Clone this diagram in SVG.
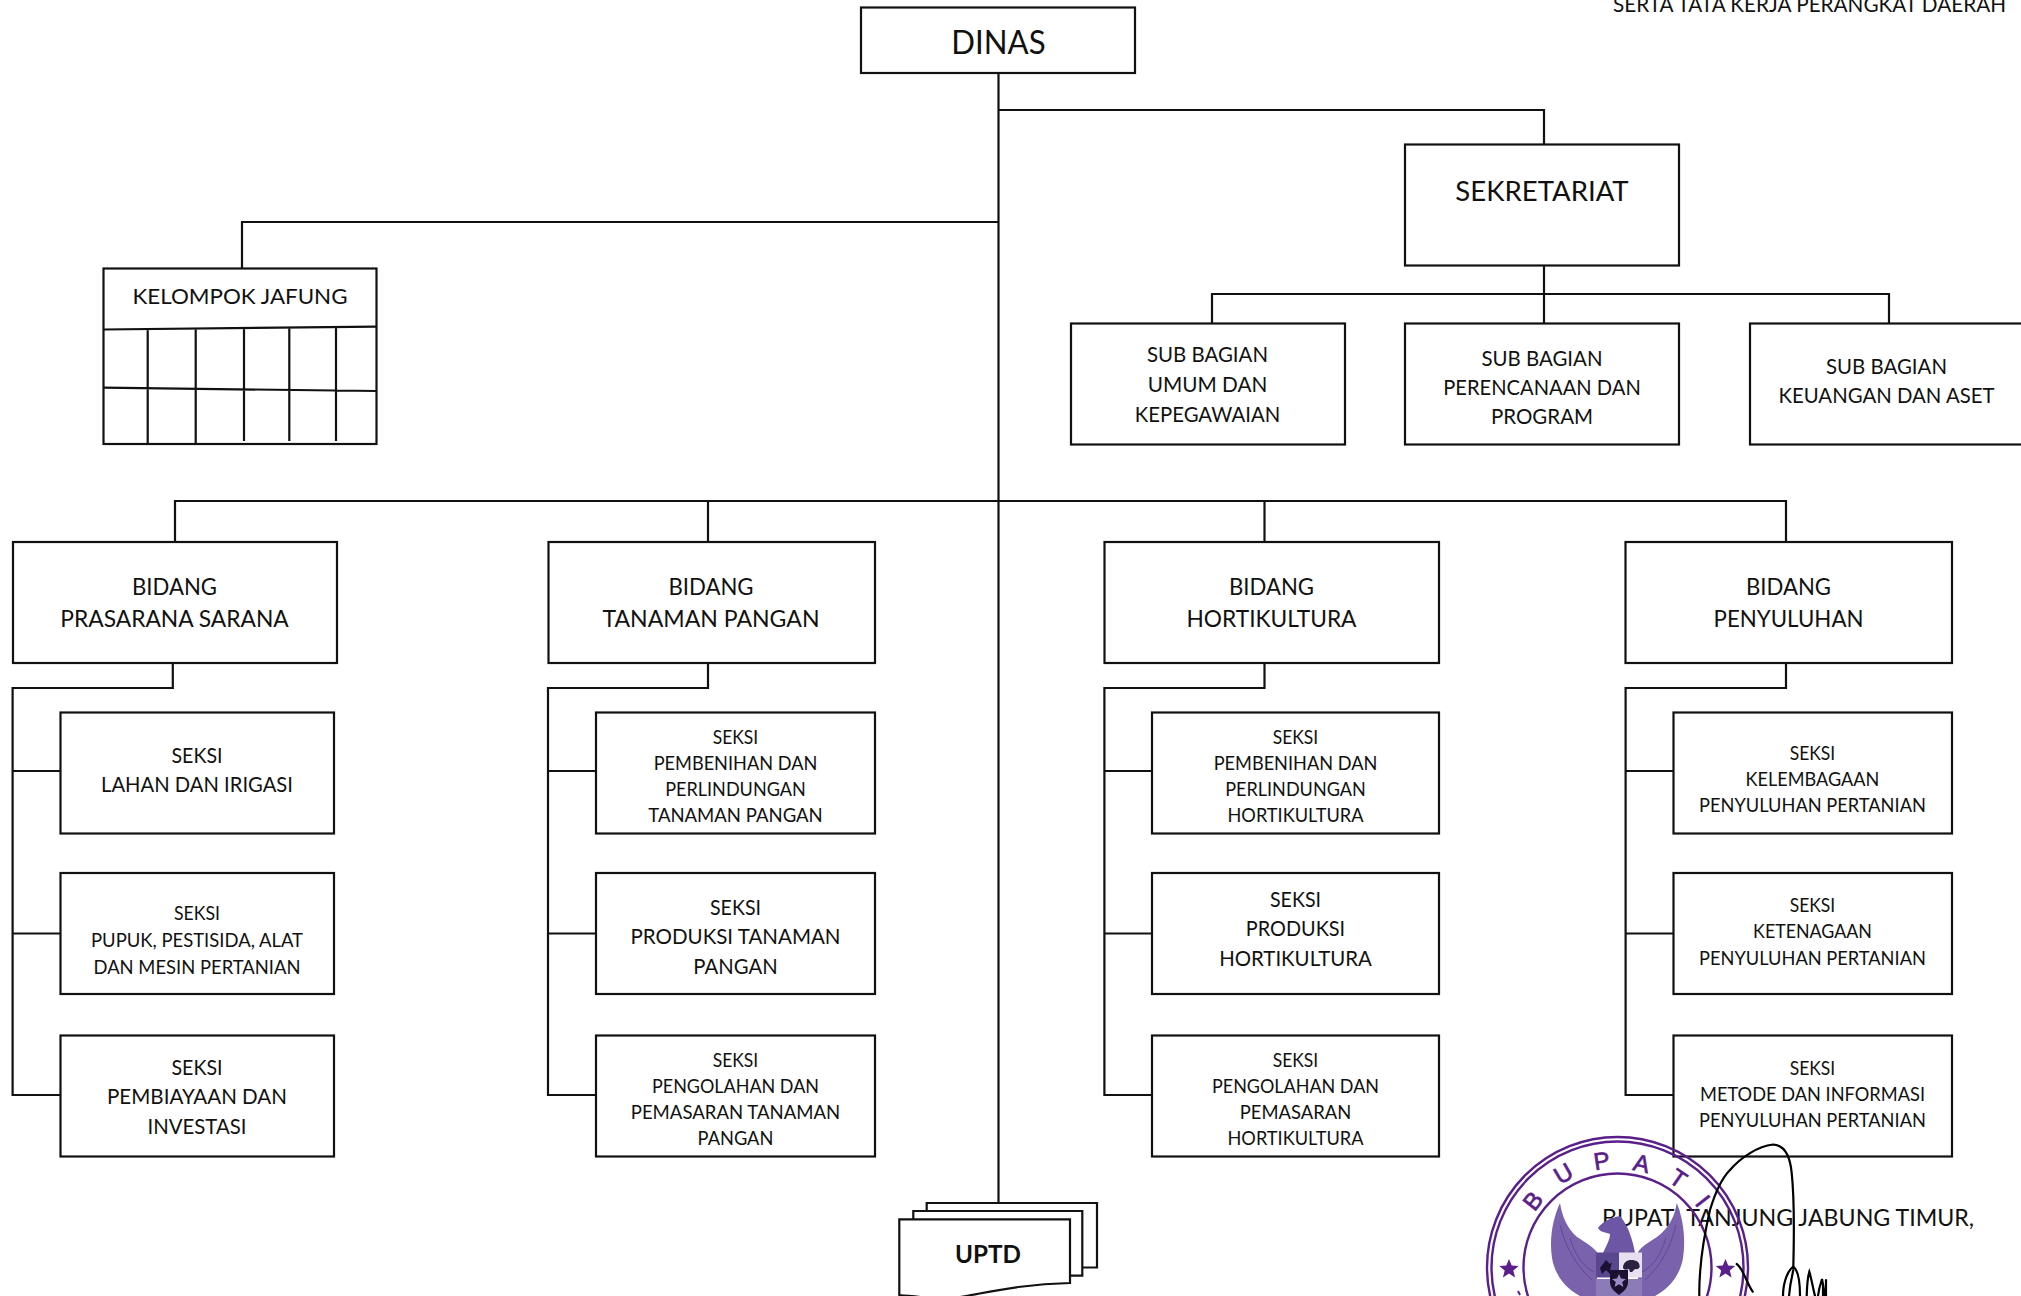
<svg xmlns="http://www.w3.org/2000/svg" width="2021" height="1296" viewBox="0 0 2021 1296">
<style>
text{font-family:"Lato","Carlito","Open Sans",sans-serif;fill:#111;text-anchor:middle}
.box{fill:#fff;stroke:#111;stroke-width:2.2}
.ln{fill:none;stroke:#111;stroke-width:2.2}
.t22{font-size:22px}
.t20{font-size:19.5px}
.t24{font-size:23.5px}
.st{fill:none;stroke:#5a1f8a;stroke-width:2.4}
.sl{fill:#5a1f8a;font-family:"Liberation Sans",sans-serif;font-size:24px;stroke:#5a1f8a;stroke-width:.7}
.sig{fill:none;stroke:#000;stroke-width:2.2;stroke-linecap:round}
</style>
<rect width="2021" height="1296" fill="#fff"/>
<g id="connectors" class="ln">
<path d="M998.5 73V1203M998.5 110H1544V144M998.5 222H242V268M175 542V501H1786V542M708 501V542M1264.5 501V542"/>
<path d="M1544 265V323M1212 323V294H1889V323"/>
<path d="M172.8 662V688H12.6V1095H60M12.6 771H60M12.6 933.5H60"/>
<path d="M708 662V688H548V1095H596M548 771H596M548 933.5H596"/>
<path d="M1264.5 662V688H1104.4V1095H1152M1104.4 771H1152M1104.4 933.5H1152"/>
<path d="M1786 662V688H1625.6V1095H1673M1625.6 771H1673M1625.6 933.5H1673"/>
</g>
<g id="dinas"><rect class="box" x="861" y="7.5" width="274" height="65.5"/><text x="998.5" y="54" font-size="32" textLength="94.3" lengthAdjust="spacingAndGlyphs">DINAS</text></g>
<g id="sekretariat"><rect class="box" x="1405" y="144.500" width="274" height="121"/><text x="1542" y="201" font-size="27" textLength="173.3" lengthAdjust="spacingAndGlyphs">SEKRETARIAT</text></g>
<g id="sub-umum"><rect class="box" x="1071" y="323.500" width="274" height="121"/><text class="t22" x="1207.5" y="362" textLength="121" lengthAdjust="spacingAndGlyphs">SUB BAGIAN</text><text class="t22" x="1207.5" y="391.5" textLength="119.6" lengthAdjust="spacingAndGlyphs">UMUM DAN</text><text class="t22" x="1207.5" y="421.5" textLength="145.4" lengthAdjust="spacingAndGlyphs">KEPEGAWAIAN</text></g>
<g id="sub-perencanaan"><rect class="box" x="1405" y="323.500" width="274" height="121"/><text class="t22" x="1542" y="365.5" textLength="121" lengthAdjust="spacingAndGlyphs">SUB BAGIAN</text><text class="t22" x="1542" y="394.5" textLength="197.5" lengthAdjust="spacingAndGlyphs">PERENCANAAN DAN</text><text class="t22" x="1542" y="423.5" textLength="102" lengthAdjust="spacingAndGlyphs">PROGRAM</text></g>
<g id="sub-keuangan"><rect class="box" x="1750" y="323.500" width="290" height="121"/><text class="t22" x="1886.5" y="373.5" textLength="121" lengthAdjust="spacingAndGlyphs">SUB BAGIAN</text><text class="t22" x="1886.5" y="402.5" textLength="216" lengthAdjust="spacingAndGlyphs">KEUANGAN DAN ASET</text></g>
<g id="kelompok-jafung"><rect class="box" x="103.5" y="268.5" width="273" height="175.5"/>
<path class="ln" d="M103.5 329.5L376.5 326.7M103.5 387.7L376.5 391M147.7 329V444M195.7 329V444M244 327V441M289.3 327V441M336 327V441"/>
<text class="t22" x="240" y="303.500" textLength="215" lengthAdjust="spacingAndGlyphs">KELOMPOK JAFUNG</text></g>
<g id="bidang-prasarana"><rect class="box" x="13" y="542" width="324" height="121"/><text class="t24" x="174.5" y="595" textLength="85" lengthAdjust="spacingAndGlyphs">BIDANG</text><text class="t24" x="174.5" y="626.5" textLength="228.5" lengthAdjust="spacingAndGlyphs">PRASARANA SARANA</text></g>
<g id="bidang-tanaman"><rect class="box" x="548.500" y="542" width="326.500" height="121"/><text class="t24" x="711" y="595" textLength="85" lengthAdjust="spacingAndGlyphs">BIDANG</text><text class="t24" x="711" y="626.5" textLength="217" lengthAdjust="spacingAndGlyphs">TANAMAN PANGAN</text></g>
<g id="bidang-hortikultura"><rect class="box" x="1104.5" y="542" width="334.5" height="121"/><text class="t24" x="1271.5" y="595" textLength="85" lengthAdjust="spacingAndGlyphs">BIDANG</text><text class="t24" x="1271.5" y="626.5" textLength="170" lengthAdjust="spacingAndGlyphs">HORTIKULTURA</text></g>
<g id="bidang-penyuluhan"><rect class="box" x="1625.5" y="542" width="326.5" height="121"/><text class="t24" x="1788.5" y="595" textLength="85" lengthAdjust="spacingAndGlyphs">BIDANG</text><text class="t24" x="1788.5" y="626.5" textLength="150" lengthAdjust="spacingAndGlyphs">PENYULUHAN</text></g>

<g id="seksi-lahan"><rect class="box" x="60.500" y="712.5" width="273.500" height="121"/><text class="t22" x="197" y="763" textLength="51" lengthAdjust="spacingAndGlyphs">SEKSI</text><text class="t22" x="197" y="791.5" textLength="192" lengthAdjust="spacingAndGlyphs">LAHAN DAN IRIGASI</text></g>
<g id="seksi-pupuk"><rect class="box" x="60.500" y="873" width="273.500" height="121"/><text class="t20" x="197" y="920" textLength="46" lengthAdjust="spacingAndGlyphs">SEKSI</text><text class="t20" x="197" y="946.5" textLength="212" lengthAdjust="spacingAndGlyphs">PUPUK, PESTISIDA, ALAT</text><text class="t20" x="197" y="973.5" textLength="207" lengthAdjust="spacingAndGlyphs">DAN MESIN PERTANIAN</text></g>
<g id="seksi-pembiayaan"><rect class="box" x="60.500" y="1035.5" width="273.500" height="121"/><text class="t22" x="197" y="1075" textLength="51" lengthAdjust="spacingAndGlyphs">SEKSI</text><text class="t22" x="197" y="1104" textLength="180" lengthAdjust="spacingAndGlyphs">PEMBIAYAAN DAN</text><text class="t22" x="197" y="1134" textLength="99" lengthAdjust="spacingAndGlyphs">INVESTASI</text></g>

<g id="seksi-pembenihan-tp"><rect class="box" x="596" y="712.5" width="279" height="121"/><text class="t20" x="735.5" y="743.5" textLength="45.5" lengthAdjust="spacingAndGlyphs">SEKSI</text><text class="t20" x="735.5" y="769.5" textLength="163.6" lengthAdjust="spacingAndGlyphs">PEMBENIHAN DAN</text><text class="t20" x="735.5" y="796" textLength="140.6" lengthAdjust="spacingAndGlyphs">PERLINDUNGAN</text><text class="t20" x="735.5" y="822" textLength="174.5" lengthAdjust="spacingAndGlyphs">TANAMAN PANGAN</text></g>
<g id="seksi-produksi-tp"><rect class="box" x="596" y="873" width="279" height="121"/><text class="t22" x="735.5" y="915" textLength="51" lengthAdjust="spacingAndGlyphs">SEKSI</text><text class="t22" x="735.5" y="943.5" textLength="210" lengthAdjust="spacingAndGlyphs">PRODUKSI TANAMAN</text><text class="t22" x="735.5" y="973.5" textLength="84.4" lengthAdjust="spacingAndGlyphs">PANGAN</text></g>
<g id="seksi-pengolahan-tp"><rect class="box" x="596" y="1035.5" width="279" height="121"/><text class="t20" x="735.5" y="1067" textLength="45.5" lengthAdjust="spacingAndGlyphs">SEKSI</text><text class="t20" x="735.5" y="1093" textLength="167" lengthAdjust="spacingAndGlyphs">PENGOLAHAN DAN</text><text class="t20" x="735.5" y="1119" textLength="209.5" lengthAdjust="spacingAndGlyphs">PEMASARAN TANAMAN</text><text class="t20" x="735.5" y="1145" textLength="75.8" lengthAdjust="spacingAndGlyphs">PANGAN</text></g>

<g id="seksi-pembenihan-h"><rect class="box" x="1152" y="712.5" width="287" height="121"/><text class="t20" x="1295.5" y="743.5" textLength="45.5" lengthAdjust="spacingAndGlyphs">SEKSI</text><text class="t20" x="1295.5" y="769.5" textLength="163.6" lengthAdjust="spacingAndGlyphs">PEMBENIHAN DAN</text><text class="t20" x="1295.5" y="796" textLength="140.6" lengthAdjust="spacingAndGlyphs">PERLINDUNGAN</text><text class="t20" x="1295.5" y="822" textLength="136" lengthAdjust="spacingAndGlyphs">HORTIKULTURA</text></g>
<g id="seksi-produksi-h"><rect class="box" x="1152" y="873" width="287" height="121"/><text class="t22" x="1295.5" y="907" textLength="51" lengthAdjust="spacingAndGlyphs">SEKSI</text><text class="t22" x="1295.5" y="936" textLength="99.3" lengthAdjust="spacingAndGlyphs">PRODUKSI</text><text class="t22" x="1295.5" y="965.5" textLength="152.7" lengthAdjust="spacingAndGlyphs">HORTIKULTURA</text></g>
<g id="seksi-pengolahan-h"><rect class="box" x="1152" y="1035.5" width="287" height="121"/><text class="t20" x="1295.5" y="1067" textLength="45.5" lengthAdjust="spacingAndGlyphs">SEKSI</text><text class="t20" x="1295.5" y="1093" textLength="167" lengthAdjust="spacingAndGlyphs">PENGOLAHAN DAN</text><text class="t20" x="1295.5" y="1119" textLength="111.4" lengthAdjust="spacingAndGlyphs">PEMASARAN</text><text class="t20" x="1295.5" y="1145" textLength="136" lengthAdjust="spacingAndGlyphs">HORTIKULTURA</text></g>

<g id="seksi-kelembagaan"><rect class="box" x="1673.500" y="712.5" width="278.500" height="121"/><text class="t20" x="1812.5" y="759.5" textLength="45.5" lengthAdjust="spacingAndGlyphs">SEKSI</text><text class="t20" x="1812.5" y="785.5" textLength="133.8" lengthAdjust="spacingAndGlyphs">KELEMBAGAAN</text><text class="t20" x="1812.5" y="811.5" textLength="226.8" lengthAdjust="spacingAndGlyphs">PENYULUHAN PERTANIAN</text></g>
<g id="seksi-ketenagaan"><rect class="box" x="1673.500" y="873" width="278.500" height="121"/><text class="t20" x="1812.5" y="911.5" textLength="45.5" lengthAdjust="spacingAndGlyphs">SEKSI</text><text class="t20" x="1812.5" y="938" textLength="118.8" lengthAdjust="spacingAndGlyphs">KETENAGAAN</text><text class="t20" x="1812.5" y="965" textLength="226.8" lengthAdjust="spacingAndGlyphs">PENYULUHAN PERTANIAN</text></g>
<g id="seksi-metode"><rect class="box" x="1673.500" y="1035.5" width="278.500" height="121"/><text class="t20" x="1812.5" y="1075" textLength="45.5" lengthAdjust="spacingAndGlyphs">SEKSI</text><text class="t20" x="1812.5" y="1101" textLength="225" lengthAdjust="spacingAndGlyphs">METODE DAN INFORMASI</text><text class="t20" x="1812.5" y="1127" textLength="226.8" lengthAdjust="spacingAndGlyphs">PENYULUHAN PERTANIAN</text></g>

<g id="uptd">
<path class="box" d="M926.7 1203H1097V1267.5H926.7Z"/>
<path class="box" d="M913.3 1211H1082.3V1275.7H913.3Z"/>
<path class="box" d="M899.3 1219.3H1070V1283C1020 1284 985 1293 960 1297C940 1300 920 1297 899.3 1295Z"/>
<text x="988" y="1263" font-size="25.5" font-weight="700" textLength="66" lengthAdjust="spacingAndGlyphs">UPTD</text>
</g>

<text id="ref-title" x="1809.5" y="12" font-size="22" textLength="393" lengthAdjust="spacingAndGlyphs">SERTA TATA KERJA PERANGKAT DAERAH</text>
<text id="signatory" x="1788" y="1225.500" font-size="23.5" textLength="372" lengthAdjust="spacingAndGlyphs">BUPATI TANJUNG JABUNG TIMUR,</text>

<g id="stamp">
<circle class="st" cx="1617.5" cy="1267.5" r="130.5"/>
<circle class="st" cx="1617.5" cy="1267.5" r="126" stroke-width="1.6"/>
<circle class="st" cx="1617.5" cy="1267.5" r="94"/>
<text class="sl" transform="translate(1532.7 1200.7) rotate(-52)" y="8.5">B</text>
<text class="sl" transform="translate(1563.3 1173.3) rotate(-30)" y="8.5">U</text>
<text class="sl" transform="translate(1601.7 1160.7) rotate(-8.5)" y="8.5">P</text>
<text class="sl" transform="translate(1641.7 1163.3) rotate(13)" y="8.5">A</text>
<text class="sl" transform="translate(1678.3 1178.3) rotate(34.4)" y="8.5">T</text>
<text class="sl" transform="translate(1703 1201) rotate(52)" y="8.5">I</text>
<path fill="#5a1f8a" d="M1509 1259l2.700 6.500 7 .5-5.400 4.500 1.800 6.900-6.100-3.800-6.100 3.800 1.800-6.900-5.400-4.500 7-.5z"/>
<path fill="#5a1f8a" d="M1725.500 1259l2.700 6.500 7 .5-5.400 4.500 1.800 6.900-6.100-3.800-6.100 3.800 1.800-6.900-5.400-4.500 7-.5z"/>
<path fill="#7a62ad" d="M1560 1203C1562 1215 1566 1227 1577 1237C1586 1243 1592 1246 1597 1252V1296H1580C1565 1288 1555 1275 1552 1258C1549 1238 1553 1218 1560 1203Z"/>
<path fill="#7a62ad" d="M1676.700 1203C1675 1215 1670 1227 1657 1237C1648 1243 1642 1246 1638 1252V1296H1655C1670 1288 1680 1275 1683 1258C1686 1238 1683 1218 1676.700 1203Z"/>
<path fill="none" stroke="#5f4a96" stroke-width="1" d="M1560 1225C1565 1245 1575 1265 1592 1280M1570 1238C1574 1252 1582 1266 1594 1272M1676 1225C1671 1245 1662 1265 1645 1280M1666 1238C1662 1252 1654 1266 1642 1272"/>
<path fill="#6d56a3" d="M1598 1228C1602 1222 1610 1218 1620 1216C1625 1222 1628 1228 1630 1234C1633 1242 1634 1248 1635 1253H1603C1606 1246 1610 1240 1610 1234C1604 1232 1600 1232 1598 1228Z"/>
<rect x="1596" y="1252.500" width="23" height="25" fill="#5b478f"/>
<path fill="#1c1030" d="M1600 1268l6-8 4 4 2-2-2 8 3 4h-3l-4-4-4 4z"/>
<rect x="1619" y="1252.500" width="23" height="25" fill="#e6e0f0"/>
<path fill="#2a2040" d="M1623 1268C1623 1260 1632 1258 1638 1262C1641 1266 1640 1270 1635 1269L1632 1272H1630L1629 1269C1626 1270 1624 1270 1623 1268Z"/>
<rect x="1596" y="1279" width="46" height="17" fill="#8d7bb8"/>
<path fill="#1c1030" d="M1610 1270H1628V1282C1628 1288 1623 1292 1619 1295C1615 1292 1610 1288 1610 1282Z"/>
<path fill="#9b8ac6" d="M1619 1274l2 4.500 5 .4-3.800 3.200 1.200 4.900-4.400-2.700-4.400 2.700 1.200-4.900-3.800-3.200 5-.4z"/>
<path fill="none" stroke="#5a1f8a" stroke-width="2" d="M1518 1291l2 4"/>
</g>

<g id="signature">
<path class="sig" d="M1699.300 1296C1699 1270 1703 1240 1710 1210C1716 1190 1722 1178 1730 1170C1740 1158 1758 1146 1773 1144.500C1784 1145 1790 1155 1791.700 1173C1794 1195 1794 1240 1793.300 1266.700"/>
<path class="sig" d="M1783 1296C1783 1282 1788 1270 1793.300 1266.700C1798 1270 1800 1283 1800 1296M1789 1296C1790 1284 1792 1276 1793.300 1270M1806.700 1296C1807 1285 1808 1276 1809.300 1271.700C1811 1277 1813 1288 1815 1296M1818 1296C1819 1288 1821 1282 1822 1279C1823 1285 1824 1290 1825 1296"/>
<path class="sig" stroke-width="3.500" d="M1823 1296V1284M1826 1296V1280"/>
<path class="sig" d="M1736.700 1264C1743 1268 1746 1282 1752.700 1291.700"/>
</g>
</svg>
